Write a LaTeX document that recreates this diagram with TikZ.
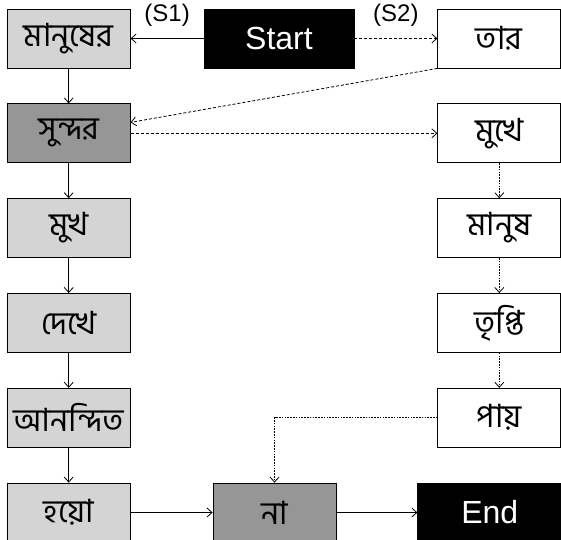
\documentclass[tikz,border=0pt]{standalone}
\usepackage{fontspec}
\setmainfont{Liberation Sans}
\newfontfamily\bn[Script=Bengali]{Hind Siliguri}
\usepackage{tikz}
\usetikzlibrary{arrows.meta, positioning}
\definecolor{lightbox}{HTML}{D4D4D4}
\definecolor{darkbox}{HTML}{969696}

\begin{document}
\begin{tikzpicture}[node distance=35pt, auto, x=1pt, y=1pt,
        box/.style={draw, line width=0.8pt, minimum width=123pt, minimum height=59pt, inner sep=0pt, font=\bn\fontsize{32}{36}\selectfont},
        word/.style={box, fill=lightbox},
        key/.style={box, fill=darkbox},
        term/.style={box, fill=black, text=white, font=\fontsize{32}{38}\selectfont},
        tip/.style={-{Straight Barb[length=5pt,width=9pt]}, line width=0.8pt},
        alt/.style={dash pattern=on 3pt off 2pt},
        altdot/.style={dash pattern=on 1.6pt off 1.2pt}]
        \useasboundingbox (0,0) rectangle (561,-539);

        \node (start) [term, minimum width=150pt] at (279,-38.5) {Start};
        \node (manusher) [word, left=73pt of start] {মানুষের};
        \node (tar) [box, right=83pt of start] {তার};

        \node (sundor) [key, below=of manusher] {সুন্দর};
        \node (mukh) [word, below=of sundor] {মুখ};
        \node (dekhe) [word, below=of mukh] {দেখে};
        \node (anondito) [word, below=of dekhe] {আনন্দিত};
        \node (hoyo) [word, below=of anondito] {হয়ো};

        \node (mukhe) [box, below=of tar] {মুখে};
        \node (manush) [box, below=of mukhe] {মানুষ};
        \node (tripti) [box, below=of manush] {তৃপ্তি};
        \node (pay) [box, below=of tripti] {পায়};

        \node (na) [key, right=82pt of hoyo] {না};
        \node (stop) [term, minimum width=144pt, right=81pt of na] {End};

        \path [tip]
            (start) edge node[above=12pt, inner sep=0pt, font=\fontsize{24}{28}\selectfont] {(S1)} (manusher)
            (start) edge[alt] node[above=12pt, inner sep=0pt, font=\fontsize{24}{28}\selectfont] {(S2)} (tar)

            (manusher) edge (sundor)
            (sundor) edge (mukh)
            (mukh) edge (dekhe)
            (dekhe) edge (anondito)
            (anondito) edge (hoyo)
            (hoyo) edge (na)
            (na) edge (stop)

            (tar.south west) edge[alt] (sundor.10)
            (sundor) edge[alt] (mukhe)
            (mukhe) edge[altdot] (manush)
            (manush) edge[altdot] (tripti)
            (tripti) edge[altdot] (pay)
            (pay.west) edge[altdot, to path={-| (\tikztotarget)}] (na.north)
            ;
    \end{tikzpicture}
\end{document}
